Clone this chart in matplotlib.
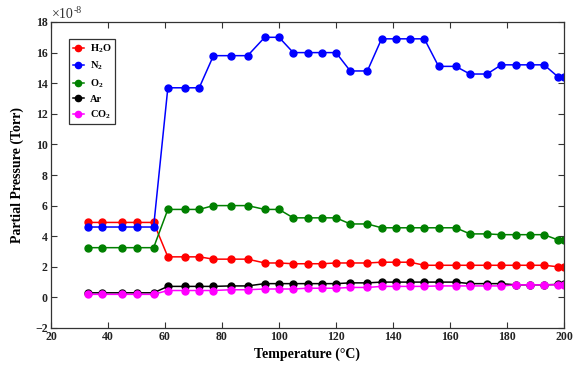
import matplotlib
matplotlib.use('Agg')
import matplotlib.pyplot as plt
import numpy as np

plt.rcParams['font.family'] = 'Liberation Serif'
plt.rcParams['font.weight'] = 'bold'
plt.rcParams['mathtext.fontset'] = 'custom'
plt.rcParams['mathtext.rm'] = 'Liberation Serif:weight=bold'
plt.rcParams['mathtext.it'] = 'Liberation Serif:weight=bold'

# temperatures (°C)
temp = [33, 38, 45, 50, 56, 61, 67, 72, 77, 83, 89, 95, 100, 105, 110, 115, 120,
        125, 131, 136, 141, 146, 151, 156, 162, 167, 173, 178, 183, 188, 193, 198, 200]

# partial pressures in units of 1e-8 Torr
h2o = [4.9, 4.9, 4.9, 4.9, 4.9, 2.65, 2.65, 2.65, 2.5, 2.5, 2.5, 2.25, 2.25, 2.2, 2.2, 2.2, 2.25,
       2.25, 2.25, 2.3, 2.3, 2.3, 2.1, 2.1, 2.1, 2.1, 2.1, 2.1, 2.1, 2.1, 2.1, 2.0, 2.0]
n2 = [4.6, 4.6, 4.6, 4.6, 4.6, 13.7, 13.7, 13.7, 15.8, 15.8, 15.8, 17.0, 17.0, 16.0, 16.0, 16.0, 16.0,
      14.8, 14.8, 16.9, 16.9, 16.9, 16.9, 15.1, 15.1, 14.6, 14.6, 15.2, 15.2, 15.2, 15.2, 14.4, 14.4]
o2 = [3.25, 3.25, 3.25, 3.25, 3.25, 5.75, 5.75, 5.75, 6.0, 6.0, 6.0, 5.75, 5.75, 5.2, 5.2, 5.2, 5.2,
      4.8, 4.8, 4.55, 4.55, 4.55, 4.55, 4.55, 4.55, 4.15, 4.15, 4.1, 4.1, 4.1, 4.1, 3.75, 3.75]
ar = [0.3, 0.3, 0.3, 0.3, 0.3, 0.72, 0.72, 0.72, 0.72, 0.75, 0.75, 0.9, 0.9, 0.9, 0.9, 0.9, 0.9,
      0.95, 0.95, 1.0, 1.0, 1.0, 1.0, 1.0, 1.0, 0.9, 0.9, 0.9, 0.82, 0.82, 0.82, 0.85, 0.85]
co2 = [0.2, 0.2, 0.2, 0.2, 0.2, 0.45, 0.45, 0.45, 0.45, 0.5, 0.5, 0.55, 0.55, 0.55, 0.6, 0.6, 0.6,
       0.65, 0.65, 0.72, 0.72, 0.72, 0.72, 0.75, 0.75, 0.75, 0.75, 0.75, 0.82, 0.82, 0.82, 0.82, 0.82]

series = [(h2o, 'H$_2$O', '#ff0000'),
          (n2, 'N$_2$', '#0000ff'),
          (o2, 'O$_2$', '#008000'),
          (ar, 'Ar', '#000000'),
          (co2, 'CO$_2$', '#ff00ff')]

fig = plt.figure(figsize=(5.86, 3.72), dpi=100)
ax = fig.add_axes([51/586, 1 - 328/372, 513/586, 306/372])

for vals, lab, col in series:
    ax.plot(temp, vals, '-o', color=col, lw=1.1, ms=5, label=lab)

ax.set_xlim(20, 200)
ax.set_ylim(-2, 18)
ax.set_xticks(np.arange(20, 201, 20))
ax.set_yticks(np.arange(-2, 19, 2))
# exponent label: plain text + small raised text (regular weight)
ax.text(0.002, 1.013, '×10', transform=ax.transAxes, fontsize=10,
        fontweight='normal', color='#333333', ha='left', va='baseline')
ax.text(0.045, 1.028, '-8', transform=ax.transAxes, fontsize=7,
        fontweight='normal', color='#333333', ha='left', va='baseline')

ax.tick_params(direction='in', top=True, right=True, labelsize=8.5, colors='#333333',
               labelcolor='#222222', length=4, width=0.8, pad=2.5)
for s in ax.spines.values():
    s.set_color('#333333')
    s.set_linewidth(0.9)

ax.set_xlabel('Temperature (°C)', fontsize=10, fontweight='bold', labelpad=3)
ax.set_ylabel('Partial Pressure (Torr)', fontsize=10, fontweight='bold', labelpad=8)

leg = ax.legend(loc='upper left', bbox_to_anchor=(0.035, 0.944), borderaxespad=0,
                fontsize=7.5, fancybox=False, edgecolor='#333333', framealpha=1,
                handlelength=1.1, handletextpad=0.6, borderpad=0.35, labelspacing=0.45,
                markerscale=0.9)
leg.get_frame().set_linewidth(0.9)

fig.savefig('out.png', dpi=100)
